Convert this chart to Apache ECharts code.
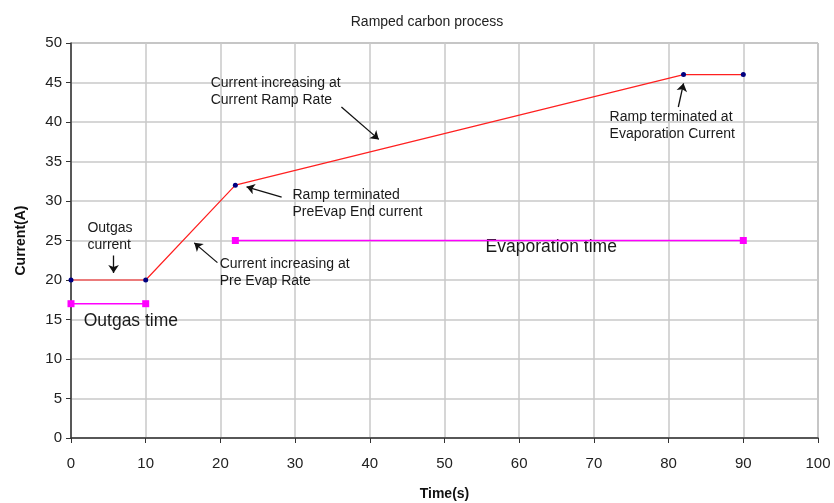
<!DOCTYPE html>
<html>
<head>
<meta charset="utf-8">
<script src="https://cdn.jsdelivr.net/npm/echarts@6/dist/echarts.min.js"></script>
<style>
html,body{margin:0;padding:0;background:#fff;}
#chart{width:834px;height:503px;}
</style>
</head>
<body>
<div id="chart"></div>
<script>
// current profile (time s, current A)
var current_data = [[0, 20], [10, 20], [22, 32], [82, 46], [90, 46]];
// outgas / evaporation time bars
var outgas_time = [[0, 17], [10, 17]];
var evap_time = [[22, 25], [90, 25]];

var x_ticks = [0, 10, 20, 30, 40, 50, 60, 70, 80, 90, 100];
var y_ticks = [0, 5, 10, 15, 20, 25, 30, 35, 40, 45, 50];

// annotation text: [x, y, text] (left edge, middle of text)
var notes = [
    [2.2, 25.5, 'Outgas\ncurrent'],
    [19.9, 20.9, 'Current increasing at\nPre Evap Rate'],
    [29.65, 29.7, 'Ramp terminated\nPreEvap End current'],
    [18.7, 43.9, 'Current increasing at\nCurrent Ramp Rate'],
    [72.1, 39.5, 'Ramp terminated at\nEvaporation Current']
];
var big_notes = [
    [1.7, 14.75, 'Outgas time'],
    [55.5, 24.1, 'Evaporation time']
];
// arrows: from -> to
var arrows = [
    [[5.7, 23.1], [5.7, 20.9]],
    [[19.6, 22.2], [16.5, 24.7]],
    [[28.2, 30.5], [23.5, 31.8]],
    [[36.2, 41.9], [41.2, 37.8]],
    [[81.3, 41.9], [82.0, 44.9]]
];

var myChart = echarts.init(document.getElementById('chart'));

var font = 'Liberation Sans, Arial, sans-serif';

var option = {
    animation: false,
    title: {
        text: 'Ramped carbon process',
        left: 422,
        top: 10,
        textAlign: 'center',
        textStyle: {fontFamily: font, fontSize: 14, fontWeight: 'normal', color: '#222'}
    },
    grid: {
        left: 71, right: 16, top: 43, bottom: 65,
        outerBoundsMode: 'none',
        show: true, borderColor: '#808080', borderWidth: 1
    },
    xAxis: {
        type: 'value', min: 0, max: 100, interval: 10,
        name: 'Time(s)', nameLocation: 'middle', nameGap: 49,
        nameTextStyle: {fontFamily: font, fontSize: 14, fontWeight: 'bold', color: '#111'},
        axisLine: {lineStyle: {color: '#333', width: 1.5}},
        axisTick: {length: 5, lineStyle: {color: '#333'}},
        axisLabel: {fontFamily: font, fontSize: 15, color: '#222', margin: 18,
            formatter: function (v) { return x_ticks.indexOf(v) >= 0 ? v : ''; }},
        splitLine: {lineStyle: {color: '#c8c8c8', width: 1.5}}
    },
    yAxis: {
        type: 'value', min: 0, max: 50, interval: 5,
        name: 'Current(A)', nameLocation: 'middle', nameGap: 43,
        nameTextStyle: {fontFamily: font, fontSize: 14, fontWeight: 'bold', color: '#111'},
        axisLine: {show: true, lineStyle: {color: '#333', width: 1.5}},
        axisTick: {show: true, length: 5, lineStyle: {color: '#333'}},
        axisLabel: {fontFamily: font, fontSize: 15, color: '#222', margin: 9,
            formatter: function (v) { return y_ticks.indexOf(v) >= 0 ? v : ''; }},
        splitLine: {lineStyle: {color: '#c8c8c8', width: 1.5}}
    },
    series: [
        {
            type: 'line', data: current_data,
            lineStyle: {color: '#ff2020', width: 1.2},
            symbol: 'circle', symbolSize: 5,
            itemStyle: {color: '#000080'}, z: 5
        },
        {
            type: 'line', data: outgas_time,
            lineStyle: {color: '#ff00ff', width: 1.5},
            symbol: 'rect', symbolSize: 7,
            itemStyle: {color: '#ff00ff'}, z: 4
        },
        {
            type: 'line', data: evap_time,
            lineStyle: {color: '#ff00ff', width: 1.5},
            symbol: 'rect', symbolSize: 7,
            itemStyle: {color: '#ff00ff'}, z: 4
        },
        {
            type: 'lines', coordinateSystem: 'cartesian2d',
            data: arrows.map(function (a) { return {coords: a}; }),
            symbol: ['none', 'arrow'], symbolSize: 8,
            lineStyle: {color: '#111', width: 1.3, opacity: 1}, z: 6
        },
        {
            type: 'scatter', symbolSize: 0, silent: true,
            itemStyle: {opacity: 1},
            data: notes.map(function (n) { return {value: [n[0], n[1]], name: n[2]}; }),
            label: {
                show: true, position: [0, 0], align: 'left', verticalAlign: 'middle',
                formatter: function (p) { return p.name; },
                fontFamily: font, fontSize: 14, lineHeight: 17, color: '#1a1a1a', opacity: 1
            }
        },
        {
            type: 'scatter', symbolSize: 0, silent: true,
            itemStyle: {opacity: 1},
            data: big_notes.map(function (n) { return {value: [n[0], n[1]], name: n[2]}; }),
            label: {
                show: true, position: [0, 0], align: 'left', verticalAlign: 'middle',
                formatter: function (p) { return p.name; },
                fontFamily: font, fontSize: 17.5, color: '#1a1a1a', opacity: 1
            }
        }
    ]
};
myChart.setOption(option);
</script>
</body>
</html>
